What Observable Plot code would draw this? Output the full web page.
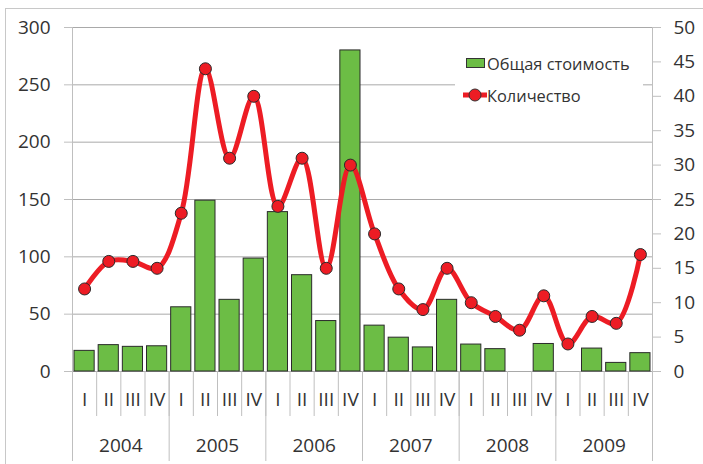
<!DOCTYPE html>
<html>
<head>
<meta charset="utf-8">
<script src="https://cdn.jsdelivr.net/npm/d3@7"></script>
<script src="https://cdn.jsdelivr.net/npm/@observablehq/plot@0.6"></script>
<style>
  html, body { margin: 0; padding: 0; background: #fff; }
  #wrap { position: relative; width: 703px; height: 464px; overflow: hidden; font-family: "Open Sans", sans-serif; }
  #border { position: absolute; left: 5px; top: 8px; width: 720px; height: 480px; border: 1px solid #c8c8c8; box-sizing: border-box; }
  #chart { position: absolute; left: 0; top: 0; }
  #legend { position: absolute; left: 455px; top: 46px; width: 188px; height: 64px; background: #fff; color: #333; font-size: 16.4px; }
  .item { position: absolute; left: 8px; display: flex; align-items: center; height: 20px; }
  .item span { margin-left: 0px; }
</style>
</head>
<body>
<div id="wrap">
  <div id="border"></div>
  <div id="chart"></div>
  <div id="legend">
    <div class="item" style="top:7px;">
      <svg width="24" height="20"><rect x="3.5" y="5.5" width="18" height="9" fill="#6cbd45" stroke="#333" stroke-width="1"/></svg>
      <span>Общая стоимость</span>
    </div>
    <div class="item" style="top:39px;">
      <svg width="24" height="20"><line x1="0" y1="10" x2="24" y2="10" stroke="#ed1c24" stroke-width="5" stroke-linecap="round"/><circle cx="12" cy="10" r="6" fill="#ed1c24" stroke="#333" stroke-width="1"/></svg>
      <span>Количество</span>
    </div>
  </div>
</div>
<script>
const years = [2004, 2005, 2006, 2007, 2008, 2009];
const quarters = ["I", "II", "III", "IV"];
// Общая стоимость (left axis)
const totalCost = [18, 23, 21.5, 22, 56, 149, 62.5, 98.5, 139, 84, 44, 280, 40, 29.5, 21, 62.5, 23.5, 19.5, null, 24, null, 20, 7.5, 16];
// Количество (right axis)
const quantity = [12, 16, 16, 15, 23, 44, 31, 40, 24, 31, 15, 30, 20, 12, 9, 15, 10, 8, 6, 11, 4, 8, 7, 17];
const leftTicks = [0, 50, 100, 150, 200, 250, 300];
const rightTicks = [0, 5, 10, 15, 20, 25, 30, 35, 40, 45, 50];
const ratio = 300 / 50;

const rows = [];
years.forEach((y, yi) => quarters.forEach((q, qi) => {
  const i = yi * 4 + qi;
  rows.push({i, year: y, quarter: q, cost: totalCost[i], qty: quantity[i]});
}));

const n = rows.length;
const gray = "#bfbfbf";
const textColor = "#333";

const chart = Plot.plot({
  width: 703,
  height: 464,
  marginLeft: 72,
  marginRight: 51,
  marginTop: 27,
  marginBottom: 93,
  x: {domain: [0, n]},
  y: {domain: [0, 300]},
  style: {fontFamily: "'Open Sans', sans-serif", fontSize: "19px", color: textColor, background: "transparent", overflow: "visible"},
  marks: [
    Plot.gridY({ticks: leftTicks, stroke: "#a9a9a9", strokeOpacity: 1}),
    Plot.ruleX([0, n], {stroke: gray}),
    Plot.axisY({anchor: "left", ticks: leftTicks, tickSize: 8, tickPadding: 14, stroke: gray, fill: textColor, label: null}),
    Plot.axisY({anchor: "right", ticks: rightTicks.map(v => v * ratio), tickFormat: v => String(v / ratio), tickSize: 8, tickPadding: 13, stroke: gray, fill: textColor, label: null}),
    Plot.axisX({ticks: d3.range(0, n + 1), tickSize: 45, tickFormat: () => "", stroke: gray, label: null}),
    Plot.axisX({ticks: d3.range(0, n + 1, 4), tickSize: 90, tickFormat: () => "", stroke: gray, label: null}),
    Plot.axisX({ticks: rows.map(d => d.i + 0.5), tickSize: 0, tickPadding: 21, tickFormat: v => quarters[Math.floor(v) % 4], fill: textColor, label: null}),
    Plot.axisX({ticks: years.map((y, yi) => yi * 4 + 2), tickSize: 0, tickPadding: 67, tickFormat: v => String(years[Math.floor(v / 4)]), fill: textColor, label: null}),
    Plot.rectY(rows.filter(d => d.cost != null), {x1: "i", x2: d => d.i + 1, y: "cost", insetLeft: 2, insetRight: 2, fill: "#6cbd45", stroke: "#2a2a2a", strokeWidth: 1}),
    Plot.line(rows, {x: d => d.i + 0.5, y: d => d.qty * ratio, curve: "catmull-rom", stroke: "#ed1c24", strokeWidth: 5}),
    Plot.dot(rows, {x: d => d.i + 0.5, y: d => d.qty * ratio, r: 6, fill: "#ed1c24", stroke: "#2a2a2a", strokeWidth: 1})
  ]
});
document.getElementById("chart").appendChild(chart);
</script>
</body>
</html>
